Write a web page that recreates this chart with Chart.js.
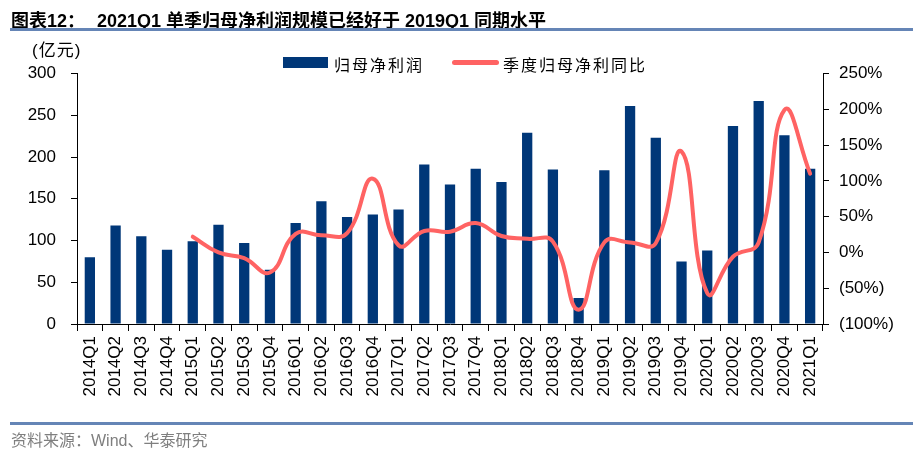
<!DOCTYPE html>
<html>
<head>
<meta charset="utf-8">
<script src="https://cdn.jsdelivr.net/npm/chart.js@4"></script>
<style>
  body { margin: 0; background: #fff; }
  #wrap { position: relative; width: 921px; height: 458px; overflow: hidden;
          font-family: "Liberation Sans", "Noto Sans CJK SC", sans-serif; }
  #chart { position: absolute; left: 0; top: 0; }
  .abs { position: absolute; white-space: nowrap; }
  .rule { position: absolute; left: 10px; width: 903px; height: 3px; background: #6585B6; }
  .title { font-size: 18px; font-weight: bold; color: #000; top: 6px; }
</style>
</head>
<body>
<div id="wrap">
  <canvas id="chart" width="921" height="458"></canvas>
  <div class="abs title" style="left:11px;">图表12：</div>
  <div class="abs title" style="left:97px;">2021Q1 单季归母净利润规模已经好于 2019Q1 同期水平</div>
  <div class="rule" style="top:28px;"></div>
  <div class="abs" style="left:32px;top:36px;font-size:17px;letter-spacing:1px;color:#000;">(亿元)</div>
  <!-- legend -->
  <div class="abs" style="left:283px;top:57px;width:45px;height:11px;background:#003778;"></div>
  <div class="abs" style="left:334px;top:52px;font-size:16px;letter-spacing:2px;color:#000;">归母净利润</div>
  <div class="abs" style="left:452px;top:60px;width:47px;height:5px;border-radius:3px;background:#FF6363;"></div>
  <div class="abs" style="left:503px;top:52px;font-size:16px;letter-spacing:2px;color:#000;">季度归母净利同比</div>
  <div class="rule" style="top:422px;"></div>
  <div class="abs" style="left:11px;top:427px;font-size:16px;color:#7f7f7f;">资料来源：Wind、华泰研究</div>
</div>
<script>
// 季度
var quarters = ["2014Q1","2014Q2","2014Q3","2014Q4","2015Q1","2015Q2","2015Q3","2015Q4",
  "2016Q1","2016Q2","2016Q3","2016Q4","2017Q1","2017Q2","2017Q3","2017Q4",
  "2018Q1","2018Q2","2018Q3","2018Q4","2019Q1","2019Q2","2019Q3","2019Q4",
  "2020Q1","2020Q2","2020Q3","2020Q4","2021Q1"];
// 归母净利润 (亿元)
var netProfit = [80,118,105,89, 99,119,97,65, 121,147,128,131, 137,191,167,186,
  170,229,185,31, 184,261,223,75, 88,237,267,226, 186];
// 季度归母净利同比 (%)
var yoyGrowth = [null,null,null,null, 22,0,-8,-28, 26,24,27,103, 10,30,29,41,
  23,19,15,-80, 14,14,13,141, -57,-6,14,199, 110];

var leftTicks = [0, 50, 100, 150, 200, 250, 300];
var rightTicks = [-100, -50, 0, 50, 100, 150, 200, 250];

var tickFont = { family: "'Liberation Sans', Arial, sans-serif", size: 17 };

new Chart(document.getElementById("chart").getContext("2d"), {
  type: "bar",
  data: {
    labels: quarters,
    datasets: [
      {
        type: "line",
        label: "季度归母净利同比",
        data: yoyGrowth,
        yAxisID: "yRight",
        borderColor: "#FF6363",
        borderWidth: 4,
        pointRadius: 0,
        tension: 0.45,
        borderCapStyle: "round",
        order: 1
      },
      {
        label: "归母净利润",
        data: netProfit,
        yAxisID: "yLeft",
        backgroundColor: "#003778",
        barPercentage: 0.4,
        categoryPercentage: 1,
        order: 2
      }
    ]
  },
  options: {
    responsive: false,
    animation: false,
    layout: { padding: { top: 73.5, left: 0, right: 0, bottom: 54 } },
    plugins: { legend: { display: false }, tooltip: { enabled: false } },
    scales: {
      x: {
        offset: true,
        grid: { offset: true, drawOnChartArea: false, color: "#000", tickLength: 7 },
        border: { color: "#000" },
        ticks: { color: "#000", font: tickFont, minRotation: 90, maxRotation: 90, padding: 5, autoSkip: false },
        afterFit: function (scale) { scale.height = 80; }
      },
      yLeft: {
        position: "left",
        min: 0, max: 300,
        afterBuildTicks: function (scale) { scale.ticks = leftTicks.map(function (v) { return { value: v }; }); },
        grid: { drawOnChartArea: false, color: "#000", tickLength: 6 },
        border: { color: "#000" },
        ticks: { color: "#000", font: tickFont, padding: 15 },
        afterFit: function (scale) { scale.width = 77; }
      },
      yRight: {
        position: "right",
        min: -100, max: 250,
        afterBuildTicks: function (scale) { scale.ticks = rightTicks.map(function (v) { return { value: v }; }); },
        grid: { drawOnChartArea: false, color: "#000", tickLength: 6 },
        border: { color: "#000" },
        ticks: {
          color: "#000", font: tickFont, padding: 10,
          callback: function (v) { return v < 0 ? "(" + Math.abs(v) + "%)" : v + "%"; }
        },
        afterFit: function (scale) { scale.width = 98; }
      }
    }
  }
});
</script>
</body>
</html>
